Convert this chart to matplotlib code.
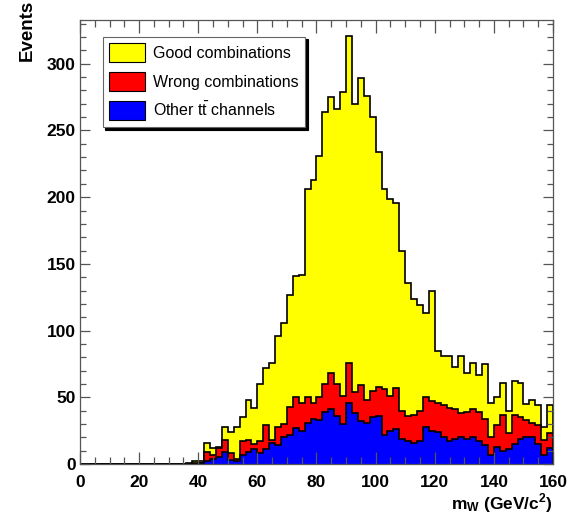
import numpy as np
import matplotlib as mpl
import matplotlib.pyplot as plt
from matplotlib.patches import Patch
from matplotlib.ticker import MultipleLocator

mpl.use("Agg")
plt.rcParams["font.family"] = ["Liberation Sans", "DejaVu Sans"]
plt.rcParams["mathtext.fontset"] = "custom"
plt.rcParams["mathtext.rm"] = "Liberation Sans"
plt.rcParams["mathtext.bf"] = "Liberation Sans:bold"

# bins of 2 GeV/c^2 from 0 to 160; first filled bin starts at 36
bin_lo, bin_hi, bin_w = 0, 160, 2
first_bin = 36

# counts per bin from 36 GeV/c^2 upward (stack order: other, wrong, good)
other = [0, 0, 1, 2, 4, 5, 9, 3, 2, 7, 9, 11, 8, 11, 16, 14, 20, 22, 27, 25,
         31, 34, 33, 39, 41, 36, 30, 46, 38, 32, 31, 35, 36, 22, 25, 26, 19, 17, 16, 17,
         28, 25, 24, 20, 17, 19, 20, 19, 20, 17, 14, 7, 13, 10, 11, 15, 19, 20, 20, 15,
         7, 12]
wrong = [0, 1, 0, 7, 3, 7, 9, 5, 2, 10, 9, 4, 9, 18, 2, 14, 10, 21, 23, 21,
         19, 12, 17, 21, 27, 24, 21, 30, 16, 27, 17, 20, 22, 34, 26, 31, 21, 19, 21, 23,
         22, 22, 22, 24, 25, 22, 18, 20, 21, 22, 20, 13, 16, 27, 12, 22, 16, 13, 11, 14,
         11, 11]
good = [1, 1, 1, 7, 5, 1, 10, 16, 24, 18, 30, 27, 43, 43, 58, 68, 76, 84, 91, 96,
        156, 167, 181, 204, 207, 206, 228, 245, 216, 230, 228, 205, 176, 150, 148, 139, 120, 100, 87, 79,
        63, 83, 39, 37, 39, 32, 43, 29, 35, 28, 41, 26, 21, 24, 17, 25, 26, 12, 17, 15,
        10, 21]

labels = ["Good combinations", "Wrong combinations", r"Other $\mathrm{t\bar{t}}$ channels"]
colors = ["#FFFF00", "#FF0000", "#0000FF"]

edges = np.arange(bin_lo, bin_hi + bin_w, bin_w)
pad = np.zeros((first_bin - bin_lo) // bin_w)
h_other = np.concatenate([pad, other])
h_wrong = h_other + np.concatenate([pad, wrong])
h_total = h_wrong + np.concatenate([pad, good])

fig = plt.figure(figsize=(5.73, 5.14), dpi=100)
ax = fig.add_axes([0.1396, 0.0973, 0.8255, 0.8643])

# THStack-like drawing: largest stack first, each with black outline
for vals, col in zip([h_total, h_wrong, h_other], colors):
    ax.stairs(vals, edges, fill=True, color=col, lw=0)
    ax.stairs(vals, edges, fill=False, color="black", lw=1.2)

ax.set_xlim(bin_lo, bin_hi)
ax.set_ylim(0, 333)
ax.xaxis.set_major_locator(MultipleLocator(20))
ax.xaxis.set_minor_locator(MultipleLocator(5))
ax.yaxis.set_major_locator(MultipleLocator(50))
ax.yaxis.set_minor_locator(MultipleLocator(10))
ax.tick_params(axis="both", which="both", direction="in", top=True, right=True,
               colors="#555555", labelcolor="black", width=0.9)
ax.tick_params(axis="x", which="major", length=9, pad=8)
ax.tick_params(axis="x", which="minor", length=5)
ax.tick_params(axis="y", which="major", length=7, pad=3)
ax.tick_params(axis="y", which="minor", length=4)
for lab in ax.get_xticklabels() + ax.get_yticklabels():
    lab.set_fontsize(12.5)
    lab.set_fontweight("bold")
for sp in ax.spines.values():
    sp.set_color("#555555")
    sp.set_linewidth(0.9)

ax.set_xlabel(r"$\mathbf{m_W}$ (GeV/c$^\mathbf{2}$)", fontsize=12.5, fontweight="bold", loc="right")
ax.xaxis.set_label_coords(1.0, -0.062)
ax.set_ylabel("Events", fontsize=13.5, fontweight="bold", loc="top")
ax.yaxis.set_label_coords(-0.093, 1.045)

handles = [Patch(facecolor=c, edgecolor="black", lw=0.8) for c in colors]
leg = ax.legend(handles, labels, loc="upper left", bbox_to_anchor=(0.048, 0.962),
                borderaxespad=0, fontsize=11.5, handlelength=2.2, handleheight=1.45,
                labelspacing=0.62, handletextpad=0.5, borderpad=0.42, fancybox=False,
                framealpha=1, edgecolor="#666666", shadow={"color": "black", "alpha": 1})
leg.get_frame().set_linewidth(0.8)

fig.savefig("out.png", dpi=100, facecolor="white")
